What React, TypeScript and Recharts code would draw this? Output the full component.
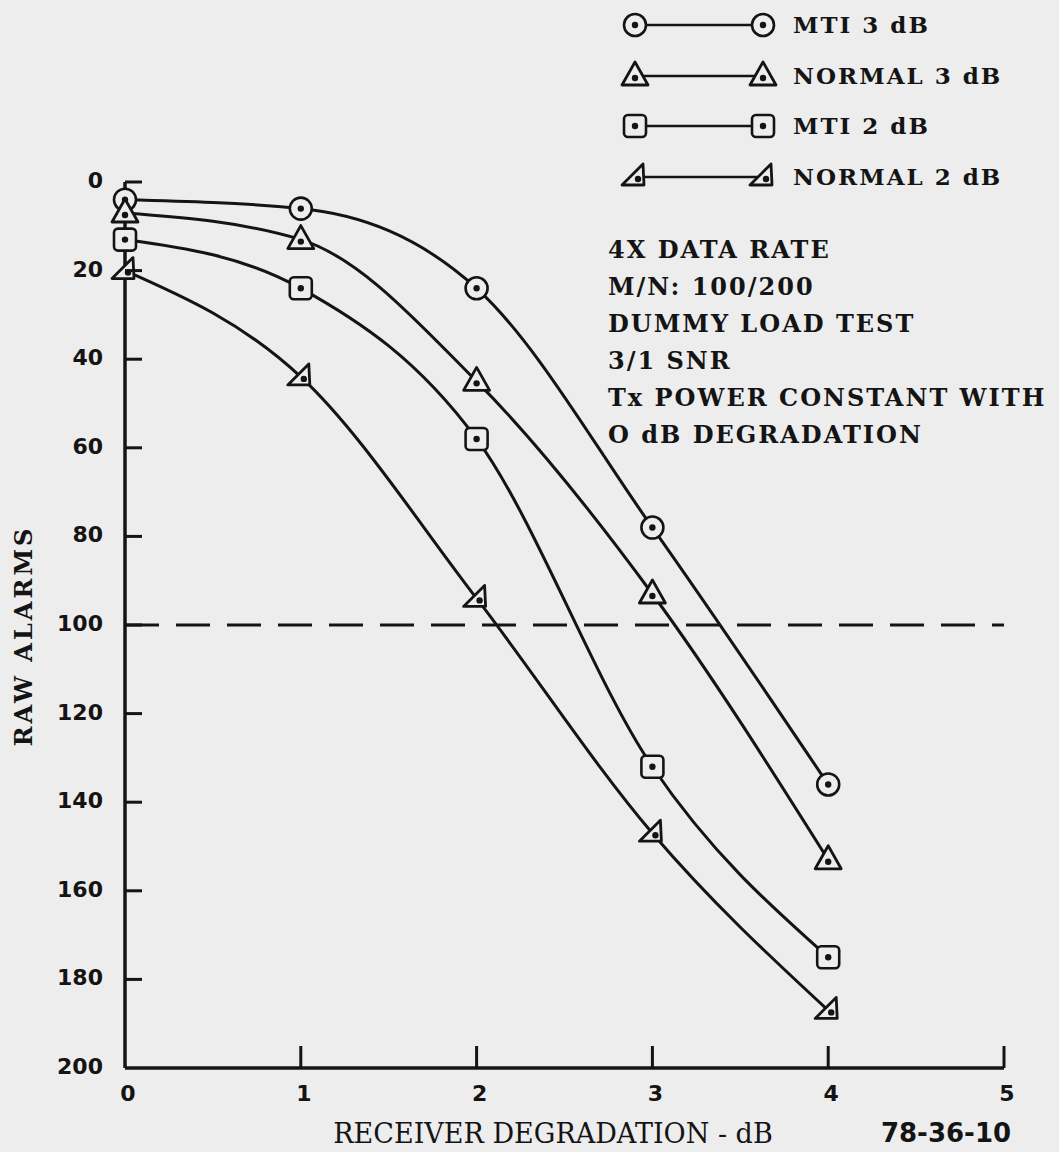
import React from 'react';
import { LineChart, Line, XAxis, YAxis, ReferenceLine } from 'recharts';

// receiver degradation (dB) at which the points were taken
const degradation = [0, 1, 2, 3, 4];

// raw alarm counts
const mti3 = [4, 6, 24, 78, 136];
const normal3 = [7, 13, 45, 93, 153];
const mti2 = [13, 24, 58, 132, 175];
const normal2 = [20, 44, 94, 147, 187];

const xTicks = [0, 1, 2, 3, 4, 5];
const yTicks = [0, 20, 40, 60, 80, 100, 120, 140, 160, 180, 200];
const threshold = 100;

const notes = [
  '4X DATA RATE',
  'M/N: 100/200',
  'DUMMY LOAD TEST',
  '3/1 SNR',
  'Tx POWER CONSTANT WITH',
  'O dB DEGRADATION',
];

const INK = '#141414';
const PAPER = '#ededed';
const SERIF = '"DejaVu Serif", "Liberation Serif", serif';
const DIGITS = '"DejaVu Sans", "Liberation Sans", sans-serif';

const data = degradation.map((db, i) => ({
  db,
  mti3: mti3[i],
  normal3: normal3[i],
  mti2: mti2[i],
  normal2: normal2[i],
}));

const CircleMark = ({ cx, cy }: any) => (
  <g>
    <circle cx={cx} cy={cy} r={11} fill={PAPER} stroke={INK} strokeWidth={2.6} />
    <circle cx={cx} cy={cy} r={3.2} fill={INK} />
  </g>
);

const TriangleMark = ({ cx, cy }: any) => (
  <g>
    <polygon
      points={`${cx},${cy - 14} ${cx + 13},${cy + 9} ${cx - 13},${cy + 9}`}
      fill={PAPER}
      stroke={INK}
      strokeWidth={2.8}
      strokeLinejoin="round"
    />
    <circle cx={cx} cy={cy + 2} r={3.2} fill={INK} />
  </g>
);

const SquareMark = ({ cx, cy }: any) => (
  <g>
    <rect x={cx - 11} y={cy - 11} width={22} height={22} rx={4} fill={PAPER} stroke={INK} strokeWidth={2.6} />
    <circle cx={cx} cy={cy} r={3.2} fill={INK} />
  </g>
);

const HalfTriangleMark = ({ cx, cy }: any) => (
  <g>
    <polygon
      points={`${cx - 13},${cy + 8} ${cx + 9},${cy + 8} ${cx + 8},${cy - 13}`}
      fill={PAPER}
      stroke={INK}
      strokeWidth={2.8}
      strokeLinejoin="round"
    />
    <circle cx={cx + 3} cy={cy + 2} r={3.2} fill={INK} />
  </g>
);

const series = [
  { key: 'mti3', label: 'MTI 3 dB', Mark: CircleMark },
  { key: 'normal3', label: 'NORMAL 3 dB', Mark: TriangleMark },
  { key: 'mti2', label: 'MTI 2 dB', Mark: SquareMark },
  { key: 'normal2', label: 'NORMAL 2 dB', Mark: HalfTriangleMark },
];

// ticks point inward, like the hand drawn axes
const YTick = ({ x, y, payload }: any) => (
  <g>
    {payload.value < 200 && <line x1={x} x2={x + 17} y1={y} y2={y} stroke={INK} strokeWidth={3} />}
    <text x={x - 22} y={y} dy={6} textAnchor="end" fontFamily={DIGITS} fontWeight="bold" fontSize={22} fill={INK}>
      {payload.value}
    </text>
  </g>
);

const XTick = ({ x, y, payload }: any) => (
  <g>
    {payload.value > 0 && <line x1={x} x2={x} y1={y} y2={y - 22} stroke={INK} strokeWidth={3} />}
    <text x={x + 3} y={y + 33} textAnchor="middle" fontFamily={DIGITS} fontWeight="bold" fontSize={22} fill={INK}>
      {payload.value}
    </text>
  </g>
);

const LegendBlock = () => (
  <div style={{ position: 'absolute', left: 600, top: 0, width: 459, fontFamily: SERIF, color: INK, fontWeight: 'bold' }}>
    {series.map(({ key, label, Mark }, i) => (
      <div key={key} style={{ position: 'absolute', top: i * 50.7, left: 0, height: 50 }}>
        <svg width={180} height={50} style={{ position: 'absolute', left: 0, top: 0 }}>
          <line x1={35} x2={163} y1={25} y2={25} stroke={INK} strokeWidth={2.4} />
          <Mark cx={35} cy={25} />
          <Mark cx={163} cy={25} />
        </svg>
        <div
          style={{
            position: 'absolute',
            left: 193,
            top: 0,
            lineHeight: '50px',
            fontSize: 23,
            letterSpacing: 2,
            whiteSpace: 'nowrap',
          }}
        >
          {label}
        </div>
      </div>
    ))}
    {notes.map((line, i) => (
      <div
        key={line}
        style={{
          position: 'absolute',
          left: 8,
          top: 250 + i * 37 - 18,
          lineHeight: '36px',
          fontSize: 24,
          letterSpacing: 2,
          whiteSpace: 'nowrap',
        }}
      >
        {line}
      </div>
    ))}
  </div>
);

export default function App() {
  return (
    <div style={{ position: 'absolute', left: 0, top: 0, width: 1059, height: 1152, background: PAPER, overflow: 'hidden' }}>
      <LineChart width={1059} height={1152} data={data} margin={{ top: 182, right: 55, bottom: 44, left: 65 }}>
        <XAxis
          dataKey="db"
          type="number"
          domain={[0, 5]}
          ticks={xTicks}
          height={40}
          tickSize={0}
          tickMargin={0}
          tick={<XTick />}
          axisLine={{ stroke: INK, strokeWidth: 3.5 }}
          tickLine={false}
        />
        <YAxis
          type="number"
          domain={[0, 200]}
          ticks={yTicks}
          reversed
          width={60}
          tickSize={0}
          tickMargin={0}
          tick={<YTick />}
          axisLine={{ stroke: INK, strokeWidth: 3.5 }}
          tickLine={false}
        />
        <ReferenceLine y={threshold} stroke={INK} strokeWidth={3} strokeDasharray="34 17" />
        {series.map(({ key, Mark }) => (
          <Line
            key={key}
            dataKey={key}
            type="monotone"
            stroke={INK}
            strokeWidth={3}
            isAnimationActive={false}
            dot={(p: any) => <Mark key={`${key}-${p.index}`} cx={p.cx} cy={p.cy} />}
            activeDot={false}
          />
        ))}
      </LineChart>
      <LegendBlock />
      <div
        style={{
          position: 'absolute',
          left: 24,
          top: 636,
          transform: 'translate(-50%, -50%) rotate(-90deg)',
          fontFamily: SERIF,
          fontWeight: 'bold',
          fontSize: 24,
          lineHeight: 1,
          letterSpacing: 3,
          color: INK,
          whiteSpace: 'nowrap',
        }}
      >
        RAW ALARMS
      </div>
      <div
        style={{
          position: 'absolute',
          left: 553,
          top: 1133,
          transform: 'translate(-50%, -50%)',
          fontFamily: SERIF,
          fontSize: 27,
          lineHeight: 1,
          color: INK,
          whiteSpace: 'nowrap',
        }}
      >
        RECEIVER DEGRADATION - dB
      </div>
      <div
        style={{
          position: 'absolute',
          left: 946,
          top: 1133,
          transform: 'translate(-50%, -50%)',
          fontFamily: DIGITS,
          fontSize: 26,
          fontWeight: 'bold',
          lineHeight: 1,
          color: INK,
          whiteSpace: 'nowrap',
        }}
      >
        78-36-10
      </div>
    </div>
  );
}
